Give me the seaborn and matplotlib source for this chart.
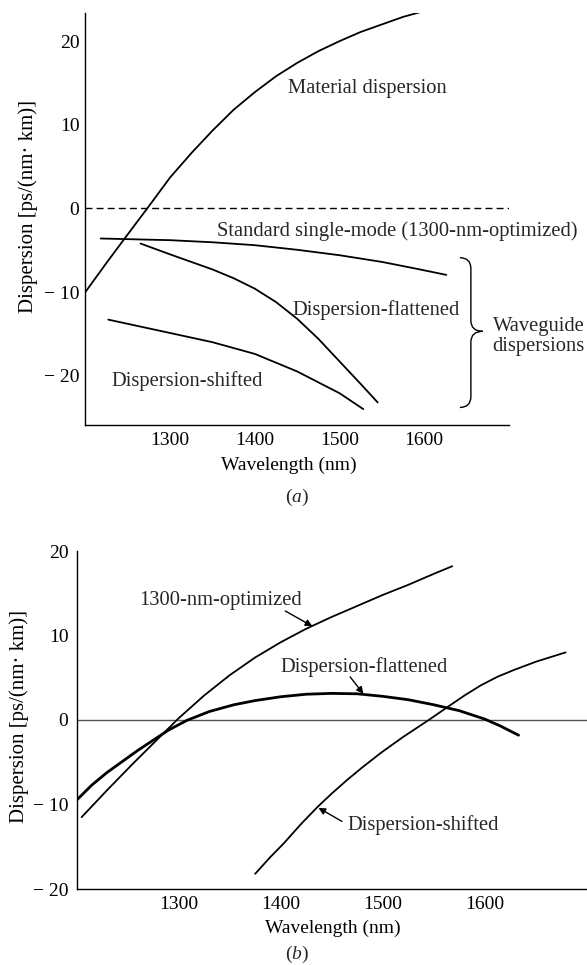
import numpy as np
import pandas as pd
import matplotlib
matplotlib.use("Agg")
import matplotlib.pyplot as plt
import seaborn as sns
from matplotlib.path import Path
from matplotlib.patches import PathPatch

# ---------------- data: panel (a) ----------------
mat_wl = [1200, 1225, 1250, 1273, 1300, 1325, 1350, 1375, 1400, 1425, 1450,
          1475, 1500, 1525, 1550, 1575, 1600]
mat_d = [-10.0, -6.5, -3.1, 0.0, 3.7, 6.6, 9.3, 11.8, 13.9, 15.8, 17.4,
         18.8, 20.0, 21.1, 22.0, 22.9, 23.6]
ssm_wl = [1218, 1300, 1350, 1400, 1450, 1500, 1550, 1590, 1626]
ssm_d = [-3.6, -3.8, -4.05, -4.4, -4.95, -5.6, -6.4, -7.2, -7.95]
flat_a_wl = [1265, 1300, 1350, 1375, 1400, 1425, 1450, 1475, 1500, 1525, 1545]
flat_a_d = [-4.2, -5.5, -7.3, -8.35, -9.6, -11.2, -13.2, -15.6, -18.3, -21.0, -23.2]
shift_a_wl = [1227, 1300, 1350, 1400, 1450, 1500, 1528]
shift_a_d = [-13.3, -14.9, -16.0, -17.4, -19.5, -22.1, -24.0]

# ---------------- data: panel (b) ----------------
opt_wl = [1205, 1230, 1255, 1280, 1300, 1325, 1350, 1375, 1400, 1425, 1450,
          1475, 1500, 1525, 1550, 1568]
opt_d = [-11.5, -8.3, -5.2, -2.2, 0.2, 2.9, 5.3, 7.4, 9.2, 10.8, 12.2,
         13.5, 14.8, 16.0, 17.3, 18.2]
flat_b_wl = [1200, 1215, 1230, 1245, 1260, 1275, 1290, 1308, 1330, 1354, 1375,
             1400, 1425, 1450, 1475, 1500, 1525, 1550, 1575, 1600, 1615, 1633]
flat_b_d = [-9.5, -7.7, -6.2, -4.9, -3.6, -2.4, -1.2, -0.05, 1.0, 1.8, 2.3,
            2.75, 3.05, 3.15, 3.1, 2.8, 2.4, 1.8, 1.1, 0.1, -0.7, -1.8]
shift_b_wl = [1375, 1390, 1403, 1420, 1436, 1450, 1465, 1480, 1498, 1520, 1545,
              1563, 1580, 1596, 1612, 1628, 1650, 1679]
shift_b_d = [-18.2, -16.2, -14.6, -12.3, -10.3, -8.7, -7.1, -5.6, -3.9, -2.0, 0.0,
             1.5, 2.9, 4.1, 5.1, 5.9, 6.9, 8.0]

x_ticks_a = [1300, 1400, 1500, 1600, 1700]
x_ticklabels_a = ["1300", "1400", "1500", "1600", ""]
x_ticks_b = [1300, 1400, 1500, 1600]
x_ticklabels_b = ["1300", "1400", "1500", "1600"]
y_ticks = [-20, -10, 0, 10, 20]
y_ticklabels = ["\u2212 20", "\u2212 10", "0", "10", "20"]

ylabel_text = "Dispersion [ps/(nm\u00b7 km)]"
xlabel_text = "Wavelength (nm)"

# ---------------- style ----------------
sns.set_theme(style="white")
plt.rcParams['font.family'] = ['Liberation Serif', 'DejaVu Serif']
plt.rcParams['mathtext.fontset'] = 'custom'
plt.rcParams['mathtext.rm'] = 'Liberation Serif'
plt.rcParams['mathtext.it'] = 'Liberation Serif:italic'

W, H = 587, 965
fig = plt.figure(figsize=(W / 100, H / 100), dpi=100)
fig.patch.set_facecolor("white")
axA = fig.add_axes([85.4 / W, 540 / H, 423.6 / W, 412.3 / H])
axB = fig.add_axes([76.5 / W, 76 / H, 510.5 / W, 338 / H])


def style_axes(ax, xt, xtl, ypad):
    for s in ["top", "right"]:
        ax.spines[s].set_visible(False)
    for s in ["left", "bottom"]:
        ax.spines[s].set_color("black")
        ax.spines[s].set_linewidth(1.0)
    ax.set_facecolor("white")
    ax.set_xticks(xt)
    ax.set_xticklabels(xtl)
    ax.set_yticks(y_ticks)
    ax.set_yticklabels(y_ticklabels)
    ax.tick_params(axis="both", direction="in", length=8.5, width=1.0,
                   colors="black", labelsize=14)
    ax.tick_params(axis="x", pad=5)
    ax.tick_params(axis="y", pad=ypad)
    ax.grid(False)


def curve(ax, x, y, lw):
    sns.lineplot(x=x, y=y, ax=ax, color="black", linewidth=lw,
                 sort=False, estimator=None, legend=False)


# ---------------- panel (a) ----------------
axA.set_xlim(1200, 1700)
axA.set_ylim(-25.9, 23.4)
axA.axhline(0, color="black", lw=1.0, ls=(0, (5, 3)))
curve(axA, mat_wl, mat_d, 1.3)
curve(axA, ssm_wl, ssm_d, 1.3)
curve(axA, flat_a_wl, flat_a_d, 1.3)
curve(axA, shift_a_wl, shift_a_d, 1.3)
style_axes(axA, x_ticks_a, x_ticklabels_a, 4.3)

fs = 14.8
axA.text(1439, 14.3, "Material dispersion", fontsize=fs, ha="left", va="center")
axA.text(1355.6, -2.75, "Standard single-mode (1300-nm-optimized)", fontsize=fs,
         ha="left", va="center", clip_on=False)
axA.text(1444.5, -12.1, "Dispersion-flattened", fontsize=fs, ha="left", va="center")
axA.text(1231, -20.7, "Dispersion-shifted", fontsize=fs, ha="left", va="center")
axA.text(1735, -15.3, "Waveguide\ndispersions", fontsize=fs, ha="center",
         va="center", linespacing=1.1, clip_on=False)

# curly brace
x0, xs, xt = 1642, 1655, 1669
yt, yc, yb = -5.9, -14.7, -23.8
r = 1.3
verts = [(x0, yt), (xs, yt), (xs, yt - r), (xs, yc + r), (xs, yc), (xt, yc),
         (xs, yc), (xs, yc - r), (xs, yb + r), (xs, yb), (x0, yb)]
codes = [Path.MOVETO, Path.CURVE3, Path.CURVE3, Path.LINETO, Path.CURVE3, Path.CURVE3,
         Path.CURVE3, Path.CURVE3, Path.LINETO, Path.CURVE3, Path.CURVE3]
axA.add_patch(PathPatch(Path(verts, codes), facecolor="none", edgecolor="black",
                        lw=1.0, clip_on=False))

axA.set_ylabel(ylabel_text, fontsize=15, color="black")
axA.yaxis.label.set_verticalalignment("center")
axA.yaxis.set_label_coords(-0.136, 0.529)
axA.set_xlabel(xlabel_text, fontsize=14, color="black")
axA.xaxis.label.set_verticalalignment("center")
axA.xaxis.set_label_coords(0.48, -0.097)
axA.text(0.4995, -0.175, "($a$)", transform=axA.transAxes, fontsize=14,
         ha="center", va="center")

# ---------------- panel (b) ----------------
axB.set_xlim(1200, 1700)
axB.set_ylim(-20, 20)
axB.axhline(0, color="#555555", lw=1.0)
curve(axB, opt_wl, opt_d, 1.3)
curve(axB, flat_b_wl, flat_b_d, 2.0)
curve(axB, shift_b_wl, shift_b_d, 1.3)
style_axes(axB, x_ticks_b, x_ticklabels_b, 5.8)

axB.text(1261, 14.2, "1300-nm-optimized", fontsize=fs, ha="left", va="center")
axB.text(1399.5, 6.3, "Dispersion-flattened", fontsize=fs, ha="left", va="center")
axB.text(1465, -12.4, "Dispersion-shifted", fontsize=fs, ha="left", va="center")
ap = dict(arrowstyle="-|>", color="black", lw=1.0, mutation_scale=10,
          shrinkA=0, shrinkB=0)
axB.annotate("", xy=(1431, 11.1), xytext=(1404.5, 12.9), arrowprops=ap)
axB.annotate("", xy=(1481, 3.1), xytext=(1468, 5.1), arrowprops=ap)
axB.annotate("", xy=(1437, -10.4), xytext=(1460, -12.0), arrowprops=ap)

axB.set_ylabel(ylabel_text, fontsize=15, color="black")
axB.yaxis.label.set_verticalalignment("center")
axB.yaxis.set_label_coords(-0.113, 0.509)
axB.set_xlabel(xlabel_text, fontsize=14, color="black")
axB.xaxis.label.set_verticalalignment("center")
axB.xaxis.set_label_coords(0.502, -0.115)
axB.text(0.432, -0.195, "($b$)", transform=axB.transAxes, fontsize=14,
         ha="center", va="center")

fig.savefig("out.png", dpi=100, facecolor="white")
